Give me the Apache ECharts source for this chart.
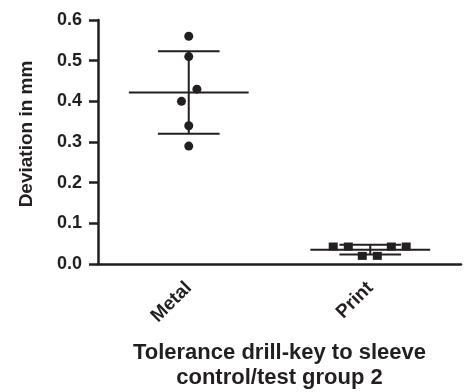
<!DOCTYPE html>
<html>
<head>
<meta charset="utf-8">
<script src="https://cdn.jsdelivr.net/npm/echarts@6/dist/echarts.min.js"></script>
<style>
  html, body { margin: 0; padding: 0; background: #fff; }
  #chart { width: 470px; height: 392px; }
</style>
</head>
<body>
<div id="chart"></div>
<script>
const categories = ['Metal', 'Print'];
const metalValues = [0.56, 0.51, 0.43, 0.40, 0.34, 0.29];
const metalJitter = [0, 0, 0.045, -0.04, 0, 0];
const printValues = [0.043, 0.043, 0.043, 0.043, 0.020, 0.020];
const printJitter = [-0.204, -0.121, 0.116, 0.198, -0.044, 0.039];

const INK = '#231f20';
const FONT = 'Liberation Sans, Arial, sans-serif';

function meanSd(arr) {
  const m = arr.reduce((a, b) => a + b, 0) / arr.length;
  const v = arr.reduce((a, b) => a + (b - m) * (b - m), 0) / (arr.length - 1);
  return [m, Math.sqrt(v)];
}

const groups = [metalValues, printValues];
const summary = groups.map((vals, i) => [i + 1].concat(meanSd(vals)));

const metalPoints = metalValues.map((v, i) => [1 + metalJitter[i], v]);
const printPoints = printValues.map((v, i) => [2 + printJitter[i], v]);

const chart = echarts.init(document.getElementById('chart'));

chart.setOption({
  animation: false,
  grid: {
    left: 98, right: 9, top: 20, bottom: 128,
    containLabel: false, outerBoundsMode: 'none'
  },
  xAxis: [
    {
      type: 'category',
      data: categories,
      boundaryGap: true,
      axisLine: { lineStyle: { color: INK, width: 2.5 } },
      axisTick: { alignWithLabel: true, length: 8, lineStyle: { color: INK, width: 2.5 } },
      axisLabel: {
        rotate: 45, margin: 21, color: INK,
        fontFamily: FONT, fontWeight: 'bold', fontSize: 19
      },
      name: 'Tolerance drill-key to sleeve\ncontrol/test group 2',
      nameLocation: 'middle',
      nameGap: 76,
      nameTextStyle: {
        color: INK, fontFamily: FONT, fontWeight: 'bold', fontSize: 22, lineHeight: 25
      }
    },
    { type: 'value', min: 0.5, max: 2.5, show: false }
  ],
  yAxis: {
    type: 'value',
    min: 0, max: 0.6, interval: 0.1,
    splitLine: { show: false },
    axisLine: { show: true, lineStyle: { color: INK, width: 2.5 } },
    axisTick: { show: true, length: 9, lineStyle: { color: INK, width: 2.5 } },
    axisLabel: {
      margin: 16, color: INK, fontFamily: FONT, fontWeight: 'bold', fontSize: 18,
      formatter: v => v.toFixed(1)
    },
    name: 'Deviation in mm',
    nameLocation: 'middle',
    nameGap: 62,
    nameTextStyle: {
      color: INK, fontFamily: FONT, fontWeight: 'bold', fontSize: 19,
      padding: [0, 0, 0, 16]
    }
  },
  series: [
    {
      type: 'custom',
      xAxisIndex: 1,
      data: summary,
      z: 1,
      renderItem: function (params, api) {
        const x = api.value(0), m = api.value(1), s = api.value(2);
        const style = { stroke: INK, lineWidth: 2 };
        const seg = (x1, y1, x2, y2) => {
          const a = api.coord([x1, y1]), b = api.coord([x2, y2]);
          return { type: 'line', shape: { x1: a[0], y1: a[1], x2: b[0], y2: b[1] }, style: style };
        };
        return {
          type: 'group',
          children: [
            seg(x - 0.33, m, x + 0.33, m),
            seg(x - 0.17, m + s, x + 0.17, m + s),
            seg(x - 0.17, m - s, x + 0.17, m - s),
            seg(x, m - s, x, m + s)
          ]
        };
      }
    },
    {
      type: 'scatter',
      xAxisIndex: 1,
      data: metalPoints,
      symbol: 'circle',
      symbolSize: 9,
      z: 3,
      itemStyle: { color: INK, opacity: 1 }
    },
    {
      type: 'scatter',
      xAxisIndex: 1,
      data: printPoints,
      symbol: 'rect',
      symbolSize: [9, 8],
      z: 3,
      itemStyle: { color: INK, opacity: 1 }
    }
  ]
});
</script>
</body>
</html>
